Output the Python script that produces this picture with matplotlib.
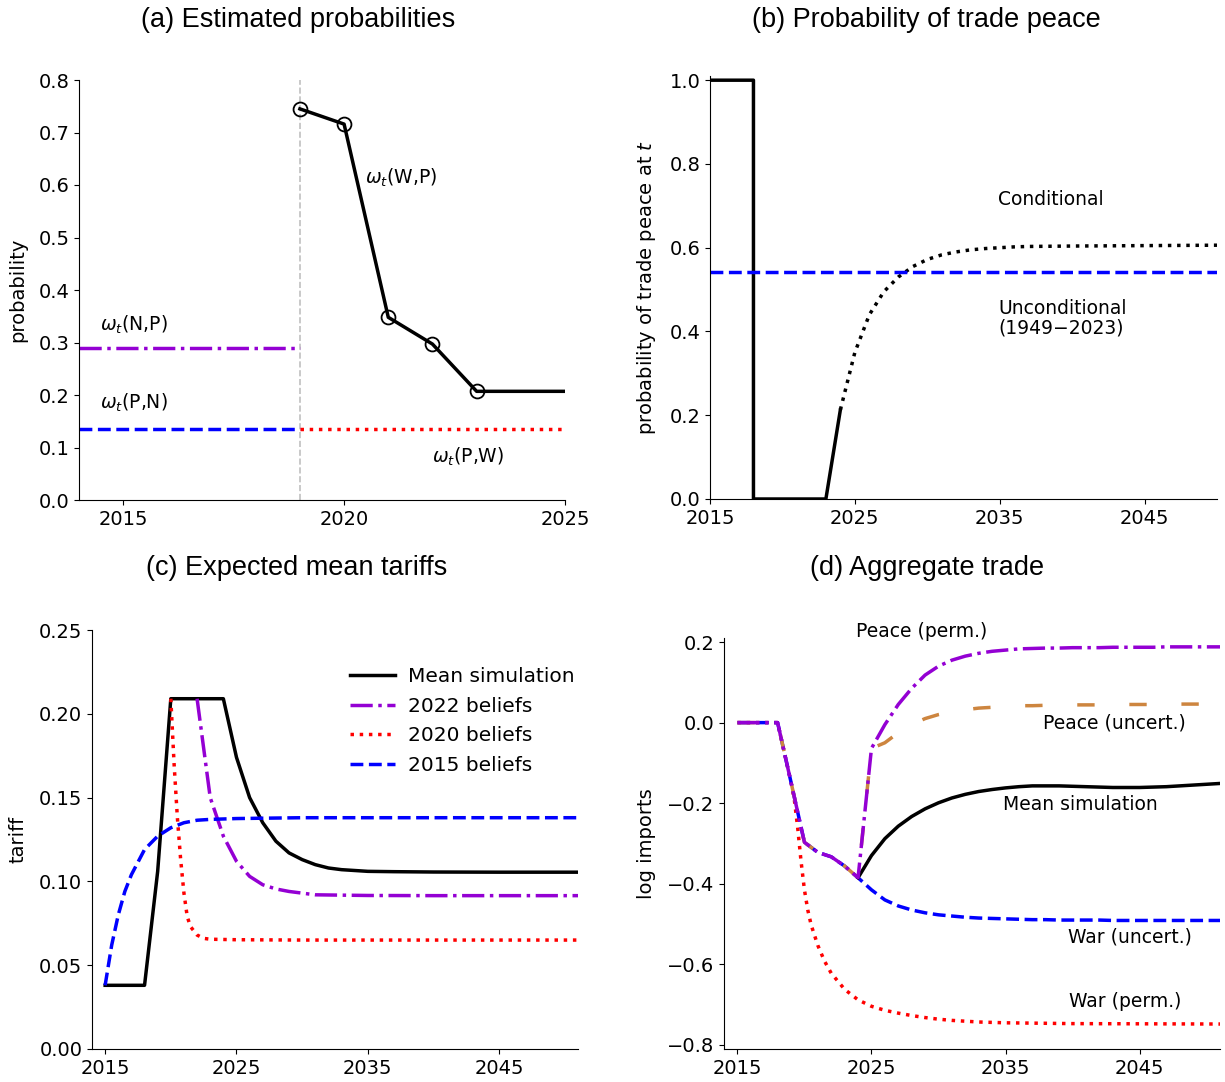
import matplotlib
matplotlib.use("Agg")
import matplotlib.pyplot as plt

# ---------------- Data ----------------
# (a) Estimated probabilities
a_wp_years = [2019, 2020, 2021, 2022, 2023, 2024, 2025]
a_wp_vals = [0.745, 0.716, 0.348, 0.297, 0.207, 0.207, 0.207]
a_wp_marked = [0, 1, 2, 3, 4]
a_np_years = [2014, 2019]
a_np_vals = [0.290, 0.290]
a_pn_years = [2014, 2019]
a_pn_vals = [0.135, 0.135]
a_pw_years = [2019, 2025]
a_pw_vals = [0.135, 0.135]
a_break_year = 2019

# (b) Probability of trade peace
b_solid_years = [2015, 2016, 2017, 2018, 2018, 2019, 2020, 2021, 2022, 2023, 2024]
b_solid_vals = [1.0, 1.0, 1.0, 1.0, 0.0, 0.0, 0.0, 0.0, 0.0, 0.0, 0.213]
b_cond_years = [2024, 2025, 2026, 2027, 2028, 2029, 2030, 2031, 2032, 2033,
                2034, 2035, 2036, 2037, 2040, 2045, 2050]
b_cond_vals = [0.213, 0.350, 0.440, 0.495, 0.530, 0.555, 0.572, 0.583, 0.590,
               0.595, 0.598, 0.600, 0.602, 0.603, 0.604, 0.605, 0.606]
b_uncond_years = [2015, 2050]
b_uncond_vals = [0.542, 0.542]

# (c) Expected mean tariffs
c_mean_years = [2015, 2016, 2017, 2018, 2019, 2020, 2021, 2022, 2023, 2024, 2025,
                2026, 2027, 2028, 2029, 2030, 2031, 2032, 2033, 2034, 2035, 2037,
                2040, 2045, 2051]
c_mean_vals = [0.038, 0.038, 0.038, 0.038, 0.106, 0.209, 0.209, 0.209, 0.209, 0.209,
               0.174, 0.150, 0.135, 0.124, 0.117, 0.113, 0.110, 0.108, 0.107, 0.1065,
               0.106, 0.1058, 0.1056, 0.1055, 0.1055]
c_b22_years = [2022, 2023, 2024, 2025, 2026, 2027, 2028, 2029, 2030, 2031, 2033,
               2035, 2040, 2051]
c_b22_vals = [0.209, 0.150, 0.127, 0.112, 0.103, 0.098, 0.0955, 0.094, 0.093, 0.092,
              0.0918, 0.0916, 0.0915, 0.0915]
c_b20_years = [2020, 2020.25, 2020.5, 2020.75, 2021, 2021.25, 2021.5, 2022, 2022.5,
               2023, 2025, 2030, 2051]
c_b20_vals = [0.209, 0.170, 0.138, 0.113, 0.093, 0.079, 0.073, 0.068, 0.066,
              0.0655, 0.0652, 0.065, 0.065]
c_b15_years = [2015, 2015.5, 2016, 2016.5, 2017, 2018, 2019, 2020, 2021, 2022, 2023,
               2025, 2030, 2051]
c_b15_vals = [0.038, 0.062, 0.080, 0.094, 0.104, 0.119, 0.127, 0.132, 0.1350, 0.1365,
              0.137, 0.1375, 0.138, 0.138]
c_labels = ["Mean simulation", "2022 beliefs", "2020 beliefs", "2015 beliefs"]

# (d) Aggregate trade
d_common_years = [2015, 2016, 2017, 2018, 2019, 2020, 2021, 2022, 2023, 2024]
d_common_vals = [0.0, 0.0, 0.0, 0.0, -0.148, -0.297, -0.322, -0.333, -0.356, -0.385]
d_late_years = [2025, 2026, 2027, 2028, 2029, 2030, 2031, 2032, 2033, 2034, 2035,
                2036, 2037, 2038, 2039, 2040, 2041, 2042, 2043, 2044, 2045, 2046,
                2047, 2048, 2049, 2050, 2051]
d_peace_perm = [-0.064, -0.005, 0.045, 0.085, 0.118, 0.140, 0.155, 0.165, 0.172,
                0.177, 0.180, 0.183, 0.184, 0.185, 0.185, 0.186, 0.186, 0.186, 0.187,
                0.187, 0.187, 0.187, 0.188, 0.188, 0.188, 0.188, 0.188]
d_peace_unc = [-0.064, -0.050, -0.025, -0.005, 0.010, 0.020, 0.027, 0.032, 0.036,
               0.038, 0.040, 0.042, 0.042, 0.043, 0.043, 0.044, 0.044, 0.044, 0.045,
               0.045, 0.045, 0.045, 0.046, 0.046, 0.046, 0.046, 0.046]
d_war_unc = [-0.415, -0.440, -0.455, -0.465, -0.472, -0.477, -0.480, -0.483, -0.485,
             -0.486, -0.487, -0.488, -0.489, -0.489, -0.490, -0.490, -0.490, -0.490,
             -0.491, -0.491, -0.491, -0.491, -0.491, -0.491, -0.491, -0.491, -0.491]
d_mean_sim = [-0.330, -0.288, -0.257, -0.233, -0.214, -0.199, -0.187, -0.178, -0.171,
              -0.166, -0.162, -0.159, -0.157, -0.157, -0.157, -0.158, -0.159, -0.160,
              -0.161, -0.161, -0.161, -0.160, -0.159, -0.157, -0.155, -0.153, -0.151]
d_war_perm_years = [2015, 2016, 2017, 2018, 2019, 2019.25, 2019.5, 2019.75, 2020,
                    2020.25, 2020.5, 2021, 2021.5, 2022, 2023, 2024, 2025, 2026, 2027,
                    2028, 2029, 2030, 2031, 2033, 2035, 2040, 2051]
d_war_perm = [0.0, 0.0, 0.0, 0.0, -0.148, -0.192, -0.262, -0.345, -0.415, -0.465,
              -0.502, -0.553, -0.592, -0.622, -0.662, -0.688, -0.704, -0.714, -0.721,
              -0.727, -0.732, -0.736, -0.739, -0.743, -0.745, -0.747, -0.748]

PURPLE = "#9400D3"
ORANGE = "#CD853F"
LW = 2.5

# ---------------- Figure ----------------
W, H = 1225, 1082
fig = plt.figure(figsize=(W / 100, H / 100), dpi=100)


def add_ax(left, top, right, bottom):
    return fig.add_axes([left / W, 1 - bottom / H, (right - left) / W, (bottom - top) / H])


TICK_FS = 14
LABEL_FS = 14
TEXT_FS = 13.5
TITLE_FS = 19.5
TITLE_FONT = ["Liberation Sans", "DejaVu Sans"]


def style(ax):
    ax.spines["top"].set_visible(False)
    ax.spines["right"].set_visible(False)
    ax.tick_params(labelsize=TICK_FS)


# (a)
ax = add_ax(79, 80, 565, 500)
style(ax)
ax.axvline(a_break_year, color="#c0c0c0", lw=1.2, ls="--", zorder=1)
ax.plot(a_np_years, a_np_vals, color=PURPLE, ls="-.", lw=LW)
ax.plot(a_pn_years, a_pn_vals, color="blue", ls="--", lw=LW)
ax.plot(a_pw_years, a_pw_vals, color="red", ls=":", lw=LW)
ax.plot(a_wp_years, a_wp_vals, color="black", lw=LW, marker="o", markersize=10,
        markerfacecolor="none", markeredgecolor="black", markeredgewidth=1.3,
        markevery=a_wp_marked)
ax.set_xlim(2014, 2025)
ax.set_ylim(0, 0.8)
ax.set_xticks([2015, 2020, 2025])
ax.set_yticks([0.0, 0.1, 0.2, 0.3, 0.4, 0.5, 0.6, 0.7, 0.8])
ax.set_ylabel("probability", fontsize=LABEL_FS, labelpad=8)
ax.text(2020.47, 0.613, r"$\omega_t$(W,P)", fontsize=TEXT_FS, va="center", ha="left")
ax.text(2014.48, 0.333, r"$\omega_t$(N,P)", fontsize=TEXT_FS, va="center", ha="left")
ax.text(2014.48, 0.185, r"$\omega_t$(P,N)", fontsize=TEXT_FS, va="center", ha="left")
ax.text(2021.99, 0.083, r"$\omega_t$(P,W)", fontsize=TEXT_FS, va="center", ha="left")
fig.text(298 / W, 1 - 20 / H, "(a) Estimated probabilities", fontsize=TITLE_FS,
         family=TITLE_FONT, ha="center", va="center")

# (b)
ax = add_ax(710, 76, 1217, 499)
style(ax)
ax.plot(b_solid_years, b_solid_vals, color="black", lw=LW)
ax.plot(b_cond_years, b_cond_vals, color="black", ls=":", lw=LW)
ax.plot(b_uncond_years, b_uncond_vals, color="blue", ls="--", lw=LW)
ax.set_xlim(2015, 2050)
ax.set_ylim(0, 1.01)
ax.set_xticks([2015, 2025, 2035, 2045])
ax.set_yticks([0.0, 0.2, 0.4, 0.6, 0.8, 1.0])
ax.set_ylabel("probability of trade peace at $t$", fontsize=LABEL_FS, labelpad=8)
ax.text(2034.9, 0.714, "Conditional", fontsize=TEXT_FS, va="center", ha="left")
ax.text(2034.9, 0.432, "Unconditional\n(1949\u22122023)", fontsize=TEXT_FS,
        va="center", ha="left", linespacing=1.05)
fig.text(926 / W, 1 - 20 / H, "(b) Probability of trade peace", fontsize=TITLE_FS,
         family=TITLE_FONT, ha="center", va="center")

# (c)
ax = add_ax(92, 630, 578, 1049)
style(ax)
ax.plot(c_mean_years, c_mean_vals, color="black", lw=LW, label=c_labels[0])
ax.plot(c_b22_years, c_b22_vals, color=PURPLE, ls="-.", lw=LW, label=c_labels[1])
ax.plot(c_b20_years, c_b20_vals, color="red", ls=":", lw=LW, label=c_labels[2])
ax.plot(c_b15_years, c_b15_vals, color="blue", ls="--", lw=LW, label=c_labels[3])
ax.set_xlim(2014, 2051)
ax.set_ylim(0, 0.25)
ax.set_xticks([2015, 2025, 2035, 2045])
ax.set_yticks([0.0, 0.05, 0.10, 0.15, 0.20, 0.25])
ax.set_yticklabels(["0.00", "0.05", "0.10", "0.15", "0.20", "0.25"])
ax.set_ylabel("tariff", fontsize=LABEL_FS, labelpad=8)
ax.legend(loc="upper right", bbox_to_anchor=(1.03, 0.955), frameon=False,
          fontsize=14.5, handlelength=2.2, labelspacing=0.53, handletextpad=0.65)
fig.text(297 / W, 1 - 568 / H, "(c) Expected mean tariffs", fontsize=TITLE_FS,
         family=TITLE_FONT, ha="center", va="center")

# (d)
ax = add_ax(724, 638, 1220, 1049)
style(ax)
ax.plot(d_war_perm_years, d_war_perm, color="red", ls=":", lw=LW)
ax.plot(d_common_years + d_late_years, d_common_vals + d_war_unc, color="blue",
        ls="--", lw=LW)
ax.plot(d_common_years[-1:] + d_late_years, d_common_vals[-1:] + d_mean_sim,
        color="black", lw=LW)
ax.plot(d_common_years + d_late_years, d_common_vals + d_peace_unc, color=ORANGE,
        ls=(0, (5, 10)), lw=LW)
ax.plot(d_common_years + d_late_years, d_common_vals + d_peace_perm, color=PURPLE,
        ls="-.", lw=LW)
ax.set_xlim(2014, 2051)
ax.set_ylim(-0.81, 0.21)
ax.set_xticks([2015, 2025, 2035, 2045])
ax.set_yticks([-0.8, -0.6, -0.4, -0.2, 0.0, 0.2])
ax.set_ylabel("log imports", fontsize=LABEL_FS, labelpad=8)
ax.text(2028.75, 0.225, "Peace (perm.)", fontsize=TEXT_FS, ha="center", va="center",
        clip_on=False)
ax.text(2043.1, -0.002, "Peace (uncert.)", fontsize=TEXT_FS, ha="center", va="center")
ax.text(2040.6, -0.202, "Mean simulation", fontsize=TEXT_FS, ha="center", va="center")
ax.text(2044.3, -0.533, "War (uncert.)", fontsize=TEXT_FS, ha="center", va="center")
ax.text(2043.9, -0.691, "War (perm.)", fontsize=TEXT_FS, ha="center", va="center")
fig.text(927 / W, 1 - 568 / H, "(d) Aggregate trade", fontsize=TITLE_FS,
         family=TITLE_FONT, ha="center", va="center")

fig.savefig("out.png", dpi=100)
